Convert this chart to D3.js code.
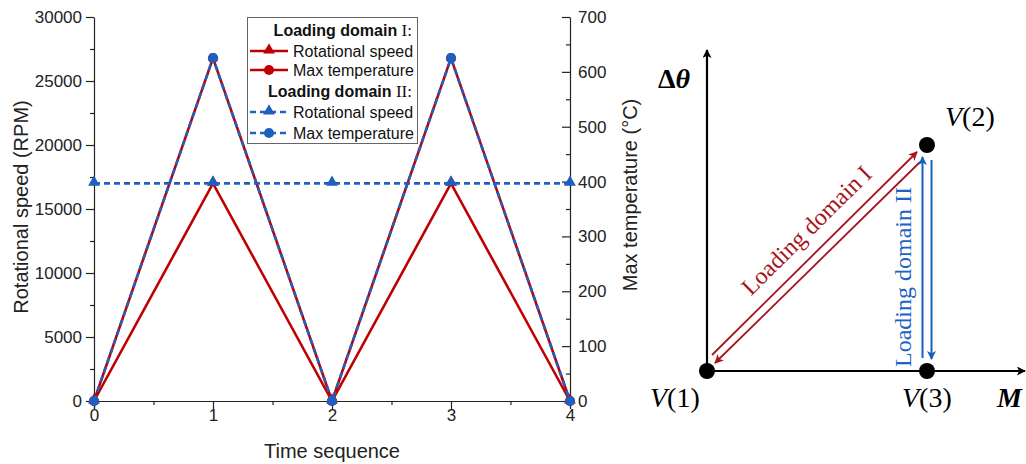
<!DOCTYPE html>
<html><head><meta charset="utf-8">
<script src="https://cdn.jsdelivr.net/npm/d3@7"></script>
<style>
body{margin:0;background:#fff;}
svg{display:block;}
.ax text{font-family:Arial,"Liberation Sans",sans-serif;font-size:17px;fill:#222;}
.ax path,.ax line{stroke:#222;stroke-width:1.2;}
</style></head>
<body>
<svg id="c" width="1026" height="464"></svg>
<script>
// ---- data ----
const timeSeq = [0, 1, 2, 3, 4];
const speedI = [0, 17000, 0, 17000, 0];
const tempI = [0, 625, 0, 625, 0];
const speedII = [17000, 17000, 17000, 17000, 17000];
const tempII = [0, 625, 0, 625, 0];
const xTicks = [0, 1, 2, 3, 4];
const xMinor = [0.5, 1.5, 2.5, 3.5];
const speedTicks = [0, 5000, 10000, 15000, 20000, 25000, 30000];
const speedMinor = [2500, 7500, 12500, 17500, 22500, 27500];
const tempTicks = [0, 100, 200, 300, 400, 500, 600, 700];
const tempMinor = [50, 150, 250, 350, 450, 550, 650];
const legendRows = ["Rotational speed", "Max temperature"];
// schematic vertices (normalized M, delta theta)
const vertexNames = ["1", "2", "3"];
const vertexM = [0, 1, 1];
const vertexT = [0, 1, 0];

const RED = "#c00000", BLUE = "#1f5fbf";
const svg = d3.select("#c");

const x = d3.scaleLinear().domain([0, 4]).range([94, 570]);
const yL = d3.scaleLinear().domain([0, 30000]).range([401, 17]);
const yR = d3.scaleLinear().domain([0, 700]).range([401, 17]);

// axes
const gB = svg.append("g").attr("class", "ax").attr("transform", "translate(0,401)");
gB.call(d3.axisBottom(x).tickValues(xTicks).tickSize(8).tickPadding(0).tickFormat(d3.format("d")));
svg.append("g").attr("class", "ax").attr("transform", "translate(0,401)")
  .call(d3.axisBottom(x).tickValues(xMinor).tickSize(4).tickFormat("")).select(".domain").remove();

svg.append("g").attr("class", "ax").attr("transform", "translate(94,0)")
  .call(d3.axisLeft(yL).tickValues(speedTicks).tickSize(8).tickPadding(4).tickSizeOuter(0).tickFormat(d3.format("d")));
svg.append("g").attr("class", "ax").attr("transform", "translate(94,0)")
  .call(d3.axisLeft(yL).tickValues(speedMinor).tickSize(4).tickFormat("")).select(".domain").remove();

svg.append("g").attr("class", "ax").attr("transform", "translate(570,0)")
  .call(d3.axisRight(yR).tickValues(tempTicks).tickSize(-8).tickPadding(8).tickSizeOuter(0).tickFormat(d3.format("d")));
svg.append("g").attr("class", "ax").attr("transform", "translate(570,0)")
  .call(d3.axisRight(yR).tickValues(tempMinor).tickSize(-4).tickFormat("")).select(".domain").remove();

// axis titles
const tf = "Arial, 'Liberation Sans', sans-serif";
svg.append("text").attr("x", 332).attr("y", 458).attr("text-anchor", "middle")
  .attr("font-family", tf).attr("font-size", 20).attr("fill", "#222").text("Time sequence");
svg.append("text").attr("transform", "translate(28,207) rotate(-90)").attr("text-anchor", "middle")
  .attr("font-family", tf).attr("font-size", 20).attr("fill", "#222").text("Rotational speed (RPM)");
svg.append("text").attr("transform", "translate(637,195) rotate(-90)").attr("text-anchor", "middle")
  .attr("font-family", tf).attr("font-size", 20).attr("fill", "#222").text("Max temperature (°C)");

// series
const plot = svg.append("g");
function drawSeries(vals, yS, color, dashed, shape) {
  const line = d3.line().x((d, i) => x(timeSeq[i])).y(d => yS(d));
  plot.append("path").datum(vals).attr("d", line).attr("fill", "none")
    .attr("stroke", color).attr("stroke-width", 2.6)
    .attr("stroke-dasharray", dashed ? "6,4" : null);
  const sym = d3.symbol().type(shape === "tri" ? d3.symbolTriangle : d3.symbolCircle).size(shape === "tri" ? 60 : 80);
  plot.selectAll(null).data(vals).enter().append("path")
    .attr("d", sym).attr("fill", color)
    .attr("transform", (d, i) => `translate(${x(timeSeq[i])},${yS(d) + (shape === "tri" ? -1 : 0)})`);
}
drawSeries(speedI, yL, RED, false, "tri");
drawSeries(tempI, yR, RED, false, "circ");
drawSeries(speedII, yL, BLUE, true, "tri");
drawSeries(tempII, yR, BLUE, true, "circ");

// legend
const lg = svg.append("g");
lg.append("rect").attr("x", 247.5).attr("y", 17.5).attr("width", 170).attr("height", 126)
  .attr("fill", "#fff").attr("stroke", "#666").attr("stroke-width", 1);
function header(y, roman) {
  const t = lg.append("text").attr("x", 412).attr("y", y).attr("text-anchor", "end").attr("fill", "#111");
  t.append("tspan").attr("font-family", tf).attr("font-weight", "bold").attr("font-size", 16).text("Loading domain ");
  t.append("tspan").attr("font-family", "'Liberation Serif','Times New Roman',serif").attr("font-size", 17).text(roman + ":");
}
function item(y, color, dashed, shape, label) {
  lg.append("line").attr("x1", 250).attr("x2", 288).attr("y1", y).attr("y2", y)
    .attr("stroke", color).attr("stroke-width", 2.6).attr("stroke-dasharray", dashed ? "6,4" : null);
  const sym = d3.symbol().type(shape === "tri" ? d3.symbolTriangle : d3.symbolCircle).size(shape === "tri" ? 60 : 80);
  lg.append("path").attr("d", sym).attr("fill", color).attr("transform", `translate(269,${y - (shape === "tri" ? 1 : 0)})`);
  lg.append("text").attr("x", 293).attr("y", y + 6).attr("font-family", tf).attr("font-size", 16)
    .attr("fill", "#111").text(label);
}
header(36, "I");
item(51, RED, false, "tri", legendRows[0]);
item(70, RED, false, "circ", legendRows[1]);
header(97, "II");
item(112, BLUE, true, "tri", legendRows[0]);
item(133, BLUE, true, "circ", legendRows[1]);

// ---- schematic ----
const sx = d3.scaleLinear().domain([0, 1]).range([707, 927]);
const sy = d3.scaleLinear().domain([0, 1]).range([371, 145]);
const defs = svg.append("defs");
function mk(id, color, w, h) {
  defs.append("marker").attr("id", id).attr("viewBox", "0 -5 10 10").attr("refX", 9).attr("refY", 0)
    .attr("markerUnits", "userSpaceOnUse").attr("markerWidth", w).attr("markerHeight", h).attr("orient", "auto")
    .append("path").attr("d", "M0,-5L10,0L0,5L2.5,0Z").attr("fill", color);
}
mk("aK", "#000", 11, 9);
mk("aR", "#a8141c", 13, 9);
mk("aB", "#1560c0", 13, 9);
const S = svg.append("g");
S.append("line").attr("x1", sx(0)).attr("y1", sy(0)).attr("x2", sx(0)).attr("y2", 50)
  .attr("stroke", "#000").attr("stroke-width", 2.2).attr("marker-end", "url(#aK)");
S.append("line").attr("x1", sx(0)).attr("y1", sy(0)).attr("x2", 1025).attr("y2", sy(0))
  .attr("stroke", "#000").attr("stroke-width", 2.2).attr("marker-end", "url(#aK)");
const V = vertexM.map((m, i) => ({ x: sx(m), y: sy(vertexT[i]), n: vertexNames[i] }));
// red arrows (domain I)
S.append("line").attr("x1", V[0].x + 5).attr("y1", V[0].y - 16).attr("x2", V[1].x - 10).attr("y2", V[1].y + 7)
  .attr("stroke", "#a8141c").attr("stroke-width", 1.8).attr("marker-end", "url(#aR)");
S.append("line").attr("x1", V[1].x - 7).attr("y1", V[1].y + 17).attr("x2", V[0].x + 8).attr("y2", V[0].y - 8)
  .attr("stroke", "#a8141c").attr("stroke-width", 1.8).attr("marker-end", "url(#aR)");
// blue arrows (domain II)
S.append("line").attr("x1", V[2].x - 4.5).attr("y1", V[2].y - 13).attr("x2", V[2].x - 4.5).attr("y2", V[1].y + 12)
  .attr("stroke", "#1560c0").attr("stroke-width", 2).attr("marker-end", "url(#aB)");
S.append("line").attr("x1", V[2].x + 4.5).attr("y1", V[1].y + 15).attr("x2", V[2].x + 4.5).attr("y2", V[2].y - 12)
  .attr("stroke", "#1560c0").attr("stroke-width", 2).attr("marker-end", "url(#aB)");
S.selectAll("circle.v").data(V).enter().append("circle").attr("class", "v")
  .attr("cx", d => d.x).attr("cy", d => d.y).attr("r", 8).attr("fill", "#000");

const serif = "'Liberation Serif','Times New Roman',serif";
S.append("text").attr("transform", "translate(812,236) rotate(-44.7)").attr("text-anchor", "middle")
  .attr("font-family", serif).attr("font-size", 24).attr("fill", "#a8141c").text("Loading domain I");
S.append("text").attr("transform", "translate(911,277) rotate(-90)").attr("text-anchor", "middle")
  .attr("font-family", serif).attr("font-size", 24).attr("fill", "#1a62c4").text("Loading domain II");

function vlab(x0, y0, n) {
  const t = S.append("text").attr("x", x0).attr("y", y0).attr("font-family", serif).attr("font-size", 28).attr("fill", "#000");
  t.append("tspan").attr("font-style", "italic").text("V");
  t.append("tspan").text("(" + n + ")");
}
vlab(650, 407, V[0].n);
vlab(945, 126, V[1].n);
vlab(902, 407, V[2].n);
const dt = S.append("text").attr("x", 658).attr("y", 88).attr("font-family", serif).attr("font-size", 28)
  .attr("font-weight", "bold").attr("fill", "#000");
dt.append("tspan").text("Δ");
dt.append("tspan").attr("font-style", "italic").text("θ");
S.append("text").attr("x", 997).attr("y", 407).attr("font-family", serif).attr("font-size", 28)
  .attr("font-weight", "bold").attr("font-style", "italic").attr("fill", "#000").text("M");
</script>
</body></html>
